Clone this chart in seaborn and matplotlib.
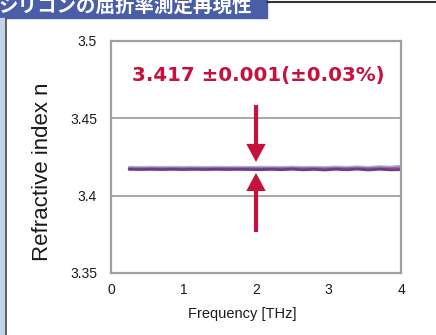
import matplotlib
matplotlib.use('Agg')
import matplotlib.pyplot as plt
import pandas as pd
import seaborn as sb
from matplotlib.patches import Rectangle
from matplotlib.lines import Line2D

# measured refractive index of silicon, three repeat runs
freq = [0.25, 0.4, 0.55, 0.7, 0.85, 1.0, 1.15, 1.3, 1.45, 1.6, 1.75, 1.9, 2.05, 2.2,
        2.35, 2.5, 2.65, 2.8, 2.95, 3.1, 3.25, 3.4, 3.55, 3.7, 3.85, 4.0]
run1 = [3.4184, 3.4183, 3.4184, 3.4183, 3.4184, 3.4183, 3.4184, 3.4183, 3.4184, 3.4183,
        3.4184, 3.4183, 3.4184, 3.4184, 3.4183, 3.4185, 3.4183, 3.4184, 3.4182, 3.4186,
        3.4183, 3.4187, 3.4182, 3.4188, 3.4185, 3.4190]
run2 = [3.4176, 3.4175, 3.4176, 3.4175, 3.4176, 3.4175, 3.4176, 3.4175, 3.4176, 3.4176,
        3.4175, 3.4176, 3.4175, 3.4176, 3.4175, 3.4177, 3.4175, 3.4176, 3.4174, 3.4177,
        3.4175, 3.4178, 3.4174, 3.4179, 3.4176, 3.4181]
run3 = [3.4170, 3.4169, 3.4170, 3.4169, 3.4170, 3.4169, 3.4170, 3.4169, 3.4170, 3.4169,
        3.4170, 3.4169, 3.4168, 3.4170, 3.4168, 3.4171, 3.4167, 3.4170, 3.4166, 3.4171,
        3.4167, 3.4172, 3.4166, 3.4171, 3.4167, 3.4168]
runs = ['run1', 'run2', 'run3']
colors = ['#7cc6de', '#c8557e', '#6a3d8e']

yticks = [3.35, 3.4, 3.45, 3.5]
ylabels = ['3.35', '3.4', '3.45', '3.5']
xticks = [0, 1, 2, 3, 4]
note = '3.417 ±0.001(±0.03%)'
title = 'シリコンの屈折率測定再現性'

data = pd.DataFrame({
    'freq': freq * 3,
    'n': run1 + run2 + run3,
    'run': [runs[0]] * len(freq) + [runs[1]] * len(freq) + [runs[2]] * len(freq),
})

sb.set_style('white')
plt.rcParams['font.family'] = ['Liberation Sans', 'DejaVu Sans']

fig = plt.figure(figsize=(4.36, 3.35), dpi=100)
ax = fig.add_axes([111 / 436, 62 / 335, 290 / 436, 232 / 335])

sb.lineplot(data=data, x='freq', y='n', hue='run', palette=colors, ax=ax,
            linewidth=2, legend=False)

ax.set_xlim(0, 4)
ax.set_ylim(3.35, 3.5)
ax.set_xticks(xticks)
ax.set_xticklabels([str(t) for t in xticks])
ax.set_yticks(yticks)
ax.set_yticklabels(ylabels)
ax.tick_params(axis='x', direction='in', length=4, width=1.2, color='#999999',
               labelsize=10, labelcolor='#1a1a1a', pad=7)
ax.tick_params(axis='y', length=0, labelsize=10, labelcolor='#1a1a1a', pad=10)
for y in [3.4, 3.45]:
    ax.axhline(y, color='#9a9a9a', lw=1.2, zorder=0)
for s in ax.spines.values():
    s.set_color('#a0a0a0')
    s.set_linewidth(1.6)

ax.set_xlabel('Frequency [THz]', fontsize=10.5, color='#1a1a1a')
ax.xaxis.set_label_coords(0.452, -0.148)
ax.set_ylabel('Refractive index n', fontsize=16, color='#1a1a1a')
ax.yaxis.set_label_coords(-0.2, 0.435)

red = '#c8103e'
ax.annotate('', xy=(2, 3.4218), xytext=(2, 3.4586),
            arrowprops=dict(width=3, headwidth=14, headlength=13, color=red, lw=0))
ax.annotate('', xy=(2, 3.4147), xytext=(2, 3.3765),
            arrowprops=dict(width=3, headwidth=14, headlength=13, color=red, lw=0))
ax.text(2.03, 3.4775, note, color=red, fontsize=14.2, fontweight='bold',
        family=['DejaVu Sans'], ha='center', va='center')

# banner and frame bits
fig.patches.append(Rectangle((0, 1 - 18 / 335), 267 / 436, 18 / 335,
                             transform=fig.transFigure, color='#4a5ea8', zorder=0))
fig.text(-2 / 436, 1 - 6 / 335, title, color='white', fontsize=14, fontweight='bold',
         family=['Noto Sans CJK JP', 'DejaVu Sans'], ha='left', va='center')
fig.lines.append(Line2D([267 / 436, 1], [1 - 1.5 / 335] * 2, transform=fig.transFigure,
                        color='#333333', lw=1.5))
fig.patches.append(Rectangle((0, 0), 4.5 / 436, 1 - 18 / 335,
                             transform=fig.transFigure, color='#c3d3ea', zorder=0))
fig.lines.append(Line2D([5.5 / 436] * 2, [0, 1 - 18 / 335], transform=fig.transFigure,
                        color='#555555', lw=1.3))

plt.savefig('out.png', dpi=100)
